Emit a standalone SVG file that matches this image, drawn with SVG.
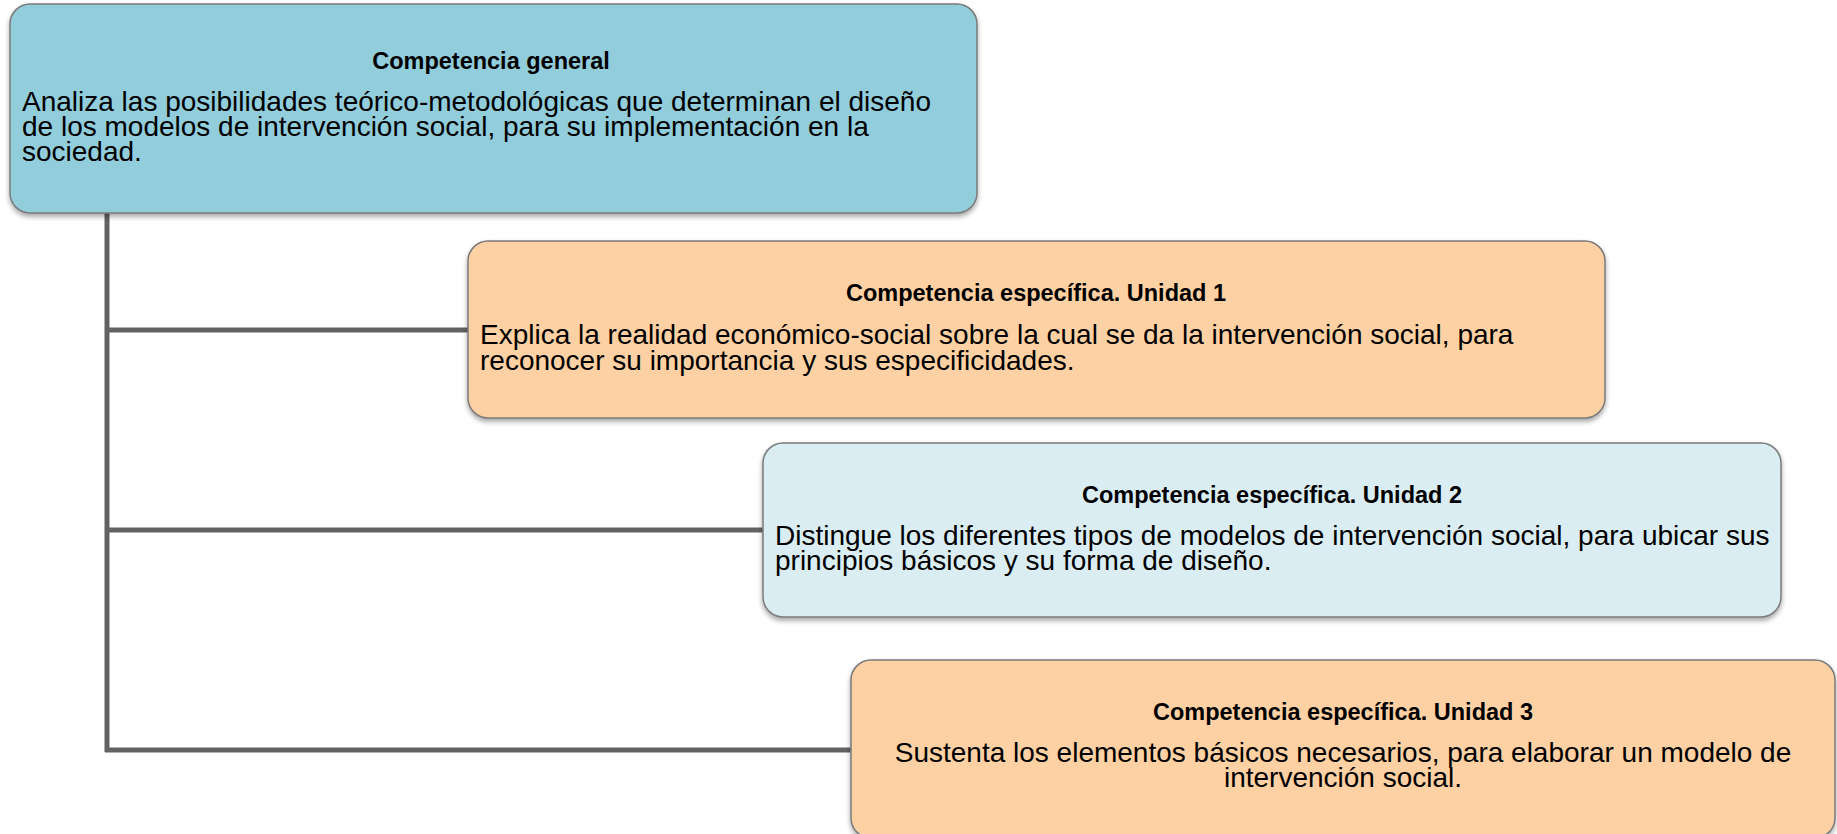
<svg xmlns="http://www.w3.org/2000/svg" width="1837" height="834" viewBox="0 0 1837 834">
<defs>
<filter id="sh" x="-5%" y="-10%" width="110%" height="130%">
<feDropShadow dx="0" dy="3" stdDeviation="2.5" flood-color="#000" flood-opacity="0.35"/>
</filter>
<style>
.box{stroke:#7a7a7a;stroke-width:1.5;filter:url(#sh)}
.blue{fill:#92CDDC}
.pale{fill:#DAEDF2}
.peach{fill:#FDD1A3}
.t{font-family:"Liberation Sans",Arial,sans-serif;font-weight:bold;font-size:23.5px;fill:#000;text-anchor:middle}
.b{font-family:"Liberation Sans",Arial,sans-serif;font-size:28px;fill:#000}
.c{fill:none;stroke:#626262;stroke-width:5}
</style>
</defs>
<rect width="1837" height="834" fill="#fff"/>
<g id="connectors">
<line class="c" x1="107" y1="212" x2="107" y2="752"/>
<line class="c" x1="105" y1="330" x2="468" y2="330"/>
<line class="c" x1="105" y1="530" x2="763" y2="530"/>
<line class="c" x1="105" y1="750" x2="851" y2="750"/>
</g>
<g id="general">
<rect class="box blue" x="10" y="4" width="967" height="209" rx="20"/>
<text class="t" x="491" y="69">Competencia general</text>
<text class="b" x="22" y="111">Analiza las posibilidades teórico-metodológicas que determinan el diseño</text>
<text class="b" x="22" y="136">de los modelos de intervención social, para su implementación en la</text>
<text class="b" x="22" y="161">sociedad.</text>
</g>
<g id="unidad1">
<rect class="box peach" x="468" y="241" width="1137" height="177" rx="20"/>
<text class="t" x="1036" y="301">Competencia específica. Unidad 1</text>
<text class="b" x="480" y="344">Explica la realidad económico-social sobre la cual se da la intervención social, para</text>
<text class="b" x="480" y="370">reconocer su importancia y sus especificidades.</text>
</g>
<g id="unidad2">
<rect class="box pale" x="763" y="443" width="1018" height="174" rx="20"/>
<text class="t" x="1272" y="503">Competencia específica. Unidad 2</text>
<text class="b" x="775" y="545">Distingue los diferentes tipos de modelos de intervención social, para ubicar sus</text>
<text class="b" x="775" y="570">principios básicos y su forma de diseño.</text>
</g>
<g id="unidad3">
<rect class="box peach" x="851" y="660" width="984" height="178" rx="20"/>
<text class="t" x="1343" y="720">Competencia específica. Unidad 3</text>
<text class="b" x="1343" y="762" text-anchor="middle">Sustenta los elementos básicos necesarios, para elaborar un modelo de</text>
<text class="b" x="1343" y="787" text-anchor="middle">intervención social.</text>
</g>
</svg>
